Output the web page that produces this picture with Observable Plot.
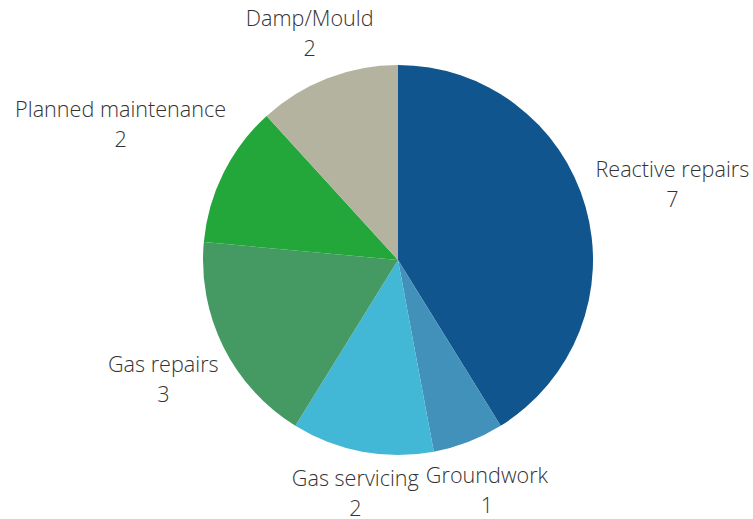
<!DOCTYPE html>
<html><head><meta charset="utf-8">
<script src="https://cdn.jsdelivr.net/npm/d3@7"></script>
<script src="https://cdn.jsdelivr.net/npm/@observablehq/plot@0.6"></script>
<style>body{margin:0;background:#fff}</style>
</head><body><div id="chart"></div>
<script>
const categories = ["Reactive repairs","Groundwork","Gas servicing","Gas repairs","Planned maintenance","Damp/Mould"];
const values = [7,1,2,3,2,2];
const colors = ["#11558e","#4191bb","#42b7d6","#459a63","#23a63a","#b3b39f"];

const W = 753, H = 519, cx = 398, cy = 260, R = 195;
const FONT_SIZE = 21.6;
const data = categories.map((c, i) => ({category: c, value: values[i]}));
const arcs = d3.pie().sort(null).value(d => d.value)(data);
const ctx = document.createElement("canvas").getContext("2d");
ctx.font = `300 ${FONT_SIZE}px 'Open Sans'`;
const labels = arcs.map(a => {
  const mid = (a.startAngle + a.endAngle) / 2;
  const ux = Math.sin(mid), uy = -Math.cos(mid);
  const w = Math.max(ctx.measureText(a.data.category).width, ctx.measureText(String(a.data.value)).width);
  const d = R + 5 + Math.abs(ux) * w * 0.53 + Math.abs(uy) * 23;
  return {x: cx + ux * d, y: cy + uy * d, text: `${a.data.category}\n${a.data.value}`};
});
const arcGen = d3.arc().innerRadius(0).outerRadius(R);
const color = d3.scaleOrdinal(categories, colors);

const chart = Plot.plot({
  width: W, height: H, margin: 0,
  x: {type: "identity", axis: null}, y: {type: "identity", axis: null},
  style: {fontFamily: "'Open Sans', sans-serif", background: "#fff"},
  marks: [
    () => {
      const g = d3.create("svg:g").attr("transform", `translate(${cx},${cy})`);
      g.selectAll("path").data(arcs).join("path")
        .attr("d", arcGen).attr("fill", d => color(d.data.category));
      return g.node();
    },
    Plot.text(labels, {x: "x", y: "y", text: "text", fontSize: FONT_SIZE, fontWeight: 300, lineHeight: 1.38, fill: "#333"})
  ]
});
document.getElementById("chart").append(chart);
</script>
</body></html>
